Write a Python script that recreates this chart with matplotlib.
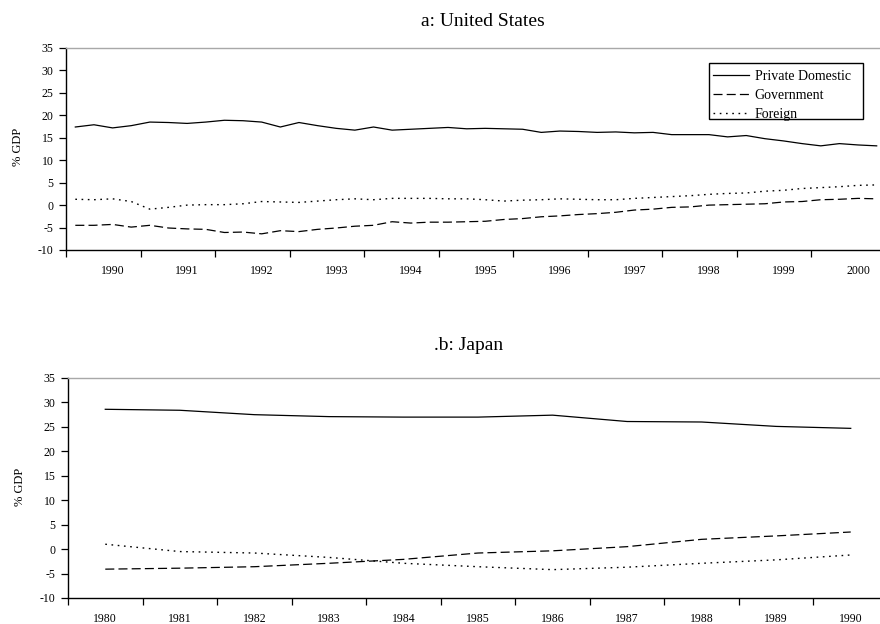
import matplotlib
matplotlib.use("Agg")
import matplotlib.pyplot as plt
from matplotlib.patches import Rectangle
import numpy as np

plt.rcParams['font.family'] = ['Liberation Serif', 'DejaVu Serif']
plt.rcParams['axes.unicode_minus'] = False
plt.rcParams['lines.scale_dashes'] = False

# ---------------- data ----------------
series_names = ["Private Domestic", "Government", "Foreign"]

us_years = [1990, 1991, 1992, 1993, 1994, 1995, 1996, 1997, 1998, 1999, 2000]
us_private = [17.4, 17.9, 17.2, 17.7, 18.5, 18.4, 18.2, 18.5, 18.9, 18.8, 18.5,
              17.4, 18.4, 17.7, 17.1, 16.7, 17.4, 16.7, 16.9, 17.1, 17.3, 17.0,
              17.1, 17.0, 16.9, 16.2, 16.5, 16.4, 16.2, 16.3, 16.1, 16.2, 15.7,
              15.7, 15.7, 15.2, 15.5, 14.8, 14.3, 13.7, 13.2, 13.7, 13.4, 13.2]
us_government = [-4.5, -4.5, -4.3, -4.9, -4.5, -5.1, -5.3, -5.4, -6.1, -6.0, -6.4,
                 -5.7, -5.9, -5.4, -5.1, -4.7, -4.5, -3.7, -4.0, -3.8, -3.8, -3.7,
                 -3.6, -3.2, -3.0, -2.6, -2.4, -2.1, -1.9, -1.6, -1.1, -0.9, -0.5,
                 -0.4, 0.0, 0.1, 0.2, 0.3, 0.7, 0.8, 1.2, 1.3, 1.5, 1.4]
us_foreign = [1.3, 1.2, 1.4, 0.8, -0.9, -0.5, 0.0, 0.1, 0.1, 0.3, 0.8,
              0.7, 0.6, 0.9, 1.2, 1.4, 1.2, 1.5, 1.5, 1.5, 1.4, 1.4,
              1.2, 0.9, 1.1, 1.2, 1.4, 1.3, 1.2, 1.2, 1.5, 1.7, 1.9,
              2.1, 2.4, 2.6, 2.7, 3.1, 3.3, 3.7, 3.9, 4.1, 4.4, 4.5]

jp_years = [1980, 1981, 1982, 1983, 1984, 1985, 1986, 1987, 1988, 1989, 1990]
jp_private = [28.6, 28.4, 27.5, 27.1, 27.0, 27.0, 27.4, 26.1, 26.0, 25.1, 24.7]
jp_government = [-4.1, -3.9, -3.6, -2.9, -2.1, -0.8, -0.35, 0.5, 2.0, 2.7, 3.5]
jp_foreign = [1.0, -0.5, -0.8, -1.7, -2.9, -3.6, -4.2, -3.7, -2.9, -2.2, -1.2]

y_ticks = [-10, -5, 0, 5, 10, 15, 20, 25, 30, 35]

# ---------------- figure ----------------
W, H = 880, 624
fig = plt.figure(figsize=(W / 100, H / 100), dpi=100)

styles = [dict(color='black', lw=0.9, linestyle='-'),
          dict(color='black', lw=0.9, linestyle=(0, (6.5, 3.0))),
          dict(color='black', lw=1.0, linestyle=(0, (1.2, 3.3)))]


def make_axes(left_px, top_px, bottom_px, width_px):
    return fig.add_axes([left_px / W, 1 - bottom_px / H, width_px / W, (bottom_px - top_px) / H])


def style_axes(ax):
    ax.set_ylim(-10, 35)
    ax.set_yticks(y_ticks)
    ax.set_yticklabels([str(v) for v in y_ticks])
    ax.spines['right'].set_visible(False)
    ax.spines['top'].set_color('#a8a8a8')
    ax.spines['top'].set_linewidth(1.0)
    ax.spines['left'].set_linewidth(1.0)
    ax.spines['bottom'].set_linewidth(1.0)
    ax.tick_params(axis='y', direction='out', length=5, width=0.9, pad=4, labelsize=8.5)
    ax.tick_params(axis='x', which='major', direction='out', length=5, width=0.9, labelbottom=False)
    ax.tick_params(axis='x', which='minor', length=0, pad=11, labelsize=8.5)


# ---- top: United States (quarterly) ----
q_px = 74.75 / 4
ax1 = make_axes(66, 48, 250, 820)
n_q = len(us_private)
xq = np.arange(n_q) + 0.5
ax1.plot(xq, us_private, label=series_names[0], **styles[0])
ax1.plot(xq, us_government, label=series_names[1], **styles[1])
ax1.plot(xq, us_foreign, label=series_names[2], **styles[2])
ax1.set_xlim(0, 820 / q_px)
ax1.set_xticks(np.arange(0, 4 * len(us_years) + 1, 4))
ax1.set_xticks(np.arange(len(us_years)) * 4 + 2.5, [str(y) for y in us_years], minor=True)
style_axes(ax1)

# legend frame drawn separately to match the reference box
frame = Rectangle((709 / W, 1 - 119 / H), (863 - 709) / W, (119 - 63) / H,
                  transform=fig.transFigure, fill=True, facecolor='white',
                  edgecolor='black', lw=1.0, zorder=4, clip_on=False)
ax1.add_patch(frame)
leg = ax1.legend(loc='upper left', bbox_to_anchor=(713 / W, 1 - 69.5 / H),
                 bbox_transform=fig.transFigure, frameon=False,
                 fontsize=10, handlelength=2.6, handletextpad=0.4,
                 borderpad=0.0, labelspacing=0.45, borderaxespad=0)
leg.set_zorder(6)

# ---- bottom: Japan (annual) ----
y_px = 74.8
ax2 = make_axes(68, 378, 598, 820)
xa = np.arange(len(jp_years)) + 0.5
ax2.plot(xa, jp_private, **styles[0])
ax2.plot(xa, jp_government, **styles[1])
ax2.plot(xa, jp_foreign, **styles[2])
ax2.set_xlim(0, 820 / y_px)
ax2.set_xticks(np.arange(0, len(jp_years) + 1))
ax2.set_xticks(xa, [str(y) for y in jp_years], minor=True)
style_axes(ax2)

# ---- titles and y labels ----
fig.text(483 / W, 1 - 22 / H, "a: United States", ha='center', va='center', fontsize=14)
fig.text(469 / W, 1 - 345 / H, ".b: Japan", ha='center', va='center', fontsize=14)
fig.text(18 / W, 1 - 147 / H, "% GDP", rotation=90, ha='center', va='center', fontsize=9)
fig.text(20 / W, 1 - 487 / H, "% GDP", rotation=90, ha='center', va='center', fontsize=9)

fig.savefig("out.png", dpi=100)
